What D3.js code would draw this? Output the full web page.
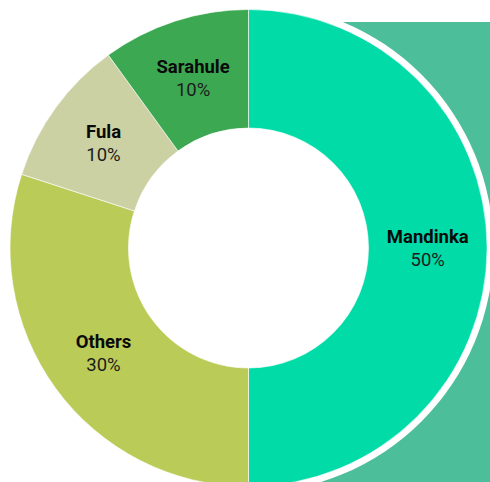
<!DOCTYPE html>
<html>
<head>
<meta charset="utf-8">
<script src="https://cdn.jsdelivr.net/npm/d3@7"></script>
<style>
  body { margin: 0; background: #fff; }
  svg { display: block; font-family: Roboto, sans-serif; }
</style>
</head>
<body>
<script>
var groups = ["Mandinka", "Others", "Fula", "Sarahule"];
var shares = [50, 30, 10, 10];
var colors = ["#00dba8", "#bbcb58", "#cbd1a3", "#3da852"];

var width = 490, height = 482;
var cx = 248.5, cy = 248;
var outer = 238.5, inner = 120;

var svg = d3.select("body").append("svg")
    .attr("width", width)
    .attr("height", height);

// teal panel behind the right half
svg.append("rect")
    .attr("x", cx)
    .attr("y", 22)
    .attr("width", width - cx)
    .attr("height", height - 22)
    .attr("fill", "#4cbe9a");

// white halo round the donut
svg.append("circle")
    .attr("cx", cx)
    .attr("cy", cy)
    .attr("r", outer + 6.5)
    .attr("fill", "#fff");

var data = groups.map(function(g, i) { return {name: g, value: shares[i], color: colors[i]}; });

var pie = d3.pie().sort(null).value(function(d) { return d.value; });
var arc = d3.arc().innerRadius(inner).outerRadius(outer);

var g = svg.append("g").attr("transform", "translate(" + cx + "," + cy + ")");

g.selectAll("path")
  .data(pie(data))
  .enter().append("path")
    .attr("d", arc)
    .attr("fill", function(d) { return d.data.color; })
    .attr("stroke", "rgba(255,255,255,0.6)")
    .attr("stroke-width", 1);

var lab = g.selectAll("text.lab")
  .data(pie(data))
  .enter().append("text")
    .attr("class", "lab")
    .attr("text-anchor", "middle")
    .attr("transform", function(d) { var c = arc.centroid(d); return "translate(" + c[0] + "," + c[1] + ")"; });

lab.append("tspan")
    .attr("x", 0)
    .attr("y", -5)
    .attr("font-weight", "bold")
    .attr("font-size", 18.5)
    .attr("fill", "#0a0a0a")
    .text(function(d) { return d.data.name; });

lab.append("tspan")
    .attr("x", 0)
    .attr("y", 18)
    .attr("font-size", 18.5)
    .attr("fill", "#1c1c1c")
    .text(function(d) { return d.data.value + "%"; });
</script>
</body>
</html>
